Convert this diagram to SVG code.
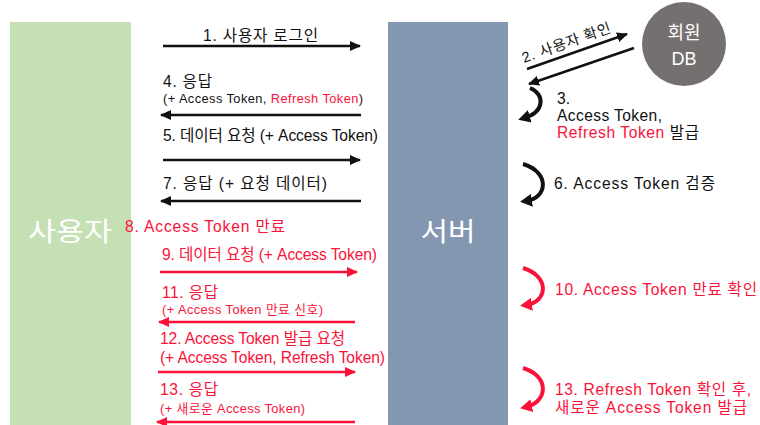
<svg xmlns="http://www.w3.org/2000/svg" width="760" height="425" viewBox="0 0 760 425">
<style>
text{font-family:"Liberation Sans","Noto Sans CJK KR",sans-serif;}
.k{fill:#111;}
.r{fill:#fb1238;}
.m{font-size:15.6px;}
.s{font-size:12.8px;}
.big{font-size:26px;fill:#fff;text-anchor:middle;}
.lk{stroke:#111;stroke-width:2.5;fill:none;}
.lr{stroke:#fb1238;stroke-width:2.5;fill:none;}
.ak{stroke:#111;stroke-width:4;fill:none;}
.ar{stroke:#fb1238;stroke-width:4;fill:none;}
</style>
<defs>
<marker id="hk" markerUnits="userSpaceOnUse" markerWidth="12" markerHeight="10" refX="10" refY="5" orient="auto"><path d="M0,0 L11,5 L0,10 Z" fill="#111"/></marker>
<marker id="hr" markerUnits="userSpaceOnUse" markerWidth="12" markerHeight="10" refX="10" refY="5" orient="auto"><path d="M0,0 L11,5 L0,10 Z" fill="#fb1238"/></marker>
<marker id="ck" markerUnits="userSpaceOnUse" markerWidth="13" markerHeight="13" refX="6" refY="6.5" orient="auto"><path d="M0,0 L12,6.5 L0,13 Z" fill="#111"/></marker>
<marker id="cr" markerUnits="userSpaceOnUse" markerWidth="13" markerHeight="13" refX="6" refY="6.5" orient="auto"><path d="M0,0 L12,6.5 L0,13 Z" fill="#fb1238"/></marker>
</defs>

<g id="user">
<rect x="10" y="22" width="121" height="403" fill="#c5e0b4"/>
<text class="big" x="70" y="241" textLength="84" lengthAdjust="spacingAndGlyphs">사용자</text>
</g>
<g id="server">
<rect x="388" y="22" width="120" height="403" fill="#8497b0"/>
<text class="big" x="448" y="241" textLength="55" lengthAdjust="spacingAndGlyphs">서버</text>
</g>
<g id="db">
<circle cx="684" cy="44" r="42" fill="#756f6f"/>
<text x="684" y="39" font-size="18" fill="#fff" text-anchor="middle">회원</text>
<text x="684" y="65" font-size="18" fill="#fff" text-anchor="middle">DB</text>
</g>

<g id="connectors">
<line class="lk" x1="163" y1="46" x2="360" y2="46" marker-end="url(#hk)"/>
<line class="lk" x1="361" y1="115" x2="161" y2="115" marker-end="url(#hk)"/>
<line class="lk" x1="163" y1="160" x2="360" y2="160" marker-end="url(#hk)"/>
<line class="lk" x1="361" y1="201" x2="161" y2="201" marker-end="url(#hk)"/>
<line class="lr" x1="160" y1="272" x2="357" y2="272" marker-end="url(#hr)"/>
<line class="lr" x1="355" y1="322" x2="159" y2="322" marker-end="url(#hr)"/>
<line class="lr" x1="158" y1="372" x2="355" y2="372" marker-end="url(#hr)"/>
<line class="lr" x1="355" y1="422" x2="157" y2="422" marker-end="url(#hr)"/>
<line class="lk" x1="527" y1="69" x2="627" y2="34" marker-end="url(#hk)"/>
<line class="lk" x1="634" y1="48" x2="529" y2="84" marker-end="url(#hk)"/>
<path class="ak" d="M530,88 C545,94 545,112 524,118" marker-end="url(#ck)"/>
<path class="ak" d="M523,164 C550,172 548,198 526,201" marker-end="url(#ck)"/>
<path class="ar" d="M523,268 C550,276 548,302 526,305" marker-end="url(#cr)"/>
<path class="ar" d="M523,368 C550,376 548,402 526,407" marker-end="url(#cr)"/>
</g>

<g id="labels">
<text class="k m" x="203" y="41" textLength="115">1. 사용자 로그인</text>
<text class="k m" x="163" y="87" textLength="49">4. 응답</text>
<text class="k s" x="163" y="103" textLength="200">(+ Access Token, <tspan class="r">Refresh Token</tspan>)</text>
<text class="k m" x="163" y="141" textLength="215">5. 데이터 요청 (+ Access Token)</text>
<text class="k m" x="163" y="189" textLength="164">7. 응답 (+ 요청 데이터)</text>
<text class="r m" x="125" y="232" textLength="160">8. Access Token 만료</text>
<text class="r m" x="162" y="260" textLength="215">9. 데이터 요청 (+ Access Token)</text>
<text class="r m" x="162" y="298" textLength="56">11. 응답</text>
<text class="r s" x="162" y="314" textLength="161">(+ Access Token 만료 신호)</text>
<text class="r m" x="160" y="344" textLength="185">12. Access Token 발급 요청</text>
<text class="r m" x="160" y="363" textLength="225">(+ Access Token, Refresh Token)</text>
<text class="r m" x="160" y="395" textLength="58">13. 응답</text>
<text class="r s" x="160" y="413" textLength="145">(+ 새로운 Access Token)</text>
<text class="k" font-size="14.5" transform="translate(524,63) rotate(-19.4)" textLength="93">2. 사용자 확인</text>
<text class="k m" x="557" y="104">3.</text>
<text class="k m" x="557" y="121" textLength="105">Access Token,</text>
<text class="k m" x="557" y="138" textLength="142"><tspan class="r">Refresh Token</tspan> 발급</text>
<text class="k m" x="554" y="189" textLength="161">6. Access Token 검증</text>
<text class="r m" x="555" y="295" textLength="202">10. Access Token 만료 확인</text>
<text class="r m" x="555" y="395" textLength="196">13. Refresh Token 확인 후,</text>
<text class="r m" x="555" y="413" textLength="192">새로운 Access Token 발급</text>
</g>
</svg>
